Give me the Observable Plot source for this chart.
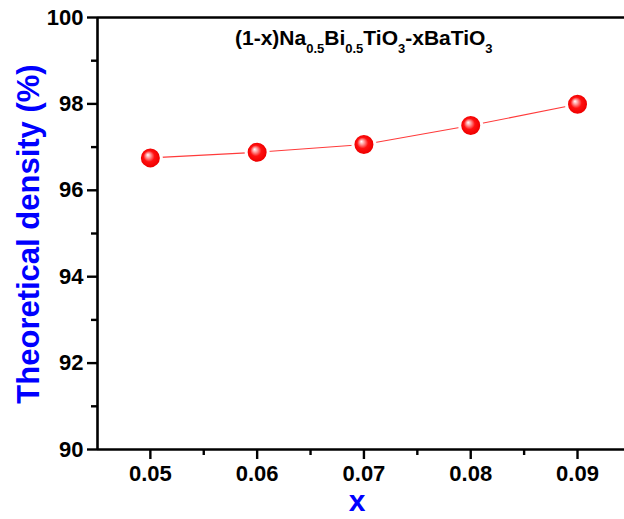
<!DOCTYPE html>
<html>
<head>
<meta charset="utf-8">
<script src="https://cdn.jsdelivr.net/npm/d3@7"></script>
<script src="https://cdn.jsdelivr.net/npm/@observablehq/plot@0.6"></script>
<style>
  html, body { margin: 0; padding: 0; background: #fff; }
  #chart { width: 624px; height: 519px; }
</style>
</head>
<body>
<div id="chart"></div>
<script>
// BaTiO3 content x and measured theoretical density (%)
const xValues = [0.05, 0.06, 0.07, 0.08, 0.09];
const density = [96.75, 96.88, 97.06, 97.50, 97.99];
const yMajorTicks = [90, 92, 94, 96, 98, 100];
const yMinorTicks = [91, 93, 95, 97, 99];
const xMajorTicks = [0.05, 0.06, 0.07, 0.08, 0.09];
const xMinorTicks = [0.055, 0.065, 0.075, 0.085];

const data = xValues.map((x, i) => ({x, y: density[i]}));

const font = "Liberation Sans, Arial, sans-serif";
const axisColor = "#000";

const chart = Plot.plot({
  width: 624,
  height: 519,
  marginLeft: 97,
  marginRight: 0,
  marginTop: 17,
  marginBottom: 70,
  style: {fontFamily: font, background: "#fff", overflow: "visible"},
  x: {domain: [0.04505, 0.0944]},
  y: {domain: [90, 100]},
  marks: [
    // axis frame: left, bottom and top lines
    Plot.ruleX([0.04505], {stroke: axisColor, strokeWidth: 2.6}),
    Plot.ruleY([90], {stroke: axisColor, strokeWidth: 2.6}),
    Plot.ruleY([100], {stroke: axisColor, strokeWidth: 2.6}),
    // y axis ticks and labels
    Plot.axisY({ticks: yMajorTicks, tickSize: 10, tickPadding: 4, tickFormat: d => d,
      fontSize: 22, fontWeight: "bold", strokeWidth: 2.4, label: null}),
    Plot.axisY({ticks: yMinorTicks, tickSize: 6, tickFormat: () => "", strokeWidth: 2.4, label: null}),
    // x axis ticks and labels
    Plot.axisX({ticks: xMajorTicks, tickSize: 10, tickPadding: 6, tickFormat: d => d.toFixed(2),
      fontSize: 22, fontWeight: "bold", strokeWidth: 2.4, label: null}),
    Plot.axisX({ticks: xMinorTicks, tickSize: 6, tickFormat: () => "", strokeWidth: 2.4, label: null}),
    // connecting line, broken around each marker by a white ring
    Plot.line(data, {x: "x", y: "y", stroke: "#ff3b3b", strokeWidth: 1.1}),
    Plot.dot(data, {x: "x", y: "y", r: 11, fill: "url(#ball)", stroke: "#fff", strokeWidth: 3})
  ]
});

// shaded sphere fill for the markers
const svg = d3.select(chart);
const defs = svg.insert("defs", ":first-child");
const grad = defs.append("radialGradient")
  .attr("id", "ball")
  .attr("cx", "50%").attr("cy", "50%").attr("r", "50%")
  .attr("fx", "38%").attr("fy", "36%");
grad.append("stop").attr("offset", "0%").attr("stop-color", "#ffffff");
grad.append("stop").attr("offset", "22%").attr("stop-color", "#ff9a9a");
grad.append("stop").attr("offset", "50%").attr("stop-color", "#ff1010");
grad.append("stop").attr("offset", "85%").attr("stop-color", "#f00000");
grad.append("stop").attr("offset", "100%").attr("stop-color", "#d80000");

// y axis title
svg.append("text")
  .attr("transform", "translate(28,234) rotate(-90)")
  .attr("text-anchor", "middle")
  .attr("dominant-baseline", "central")
  .attr("font-family", font)
  .attr("font-weight", "bold")
  .attr("font-size", 31)
  .attr("fill", "#0000ff")
  .text("Theoretical density (%)");

// x axis title
svg.append("text")
  .attr("x", 357).attr("y", 511)
  .attr("text-anchor", "middle")
  .attr("font-family", font)
  .attr("font-weight", "bold")
  .attr("font-size", 30)
  .attr("fill", "#0000ff")
  .text("x");

// composition label with subscripts
const title = svg.append("text")
  .attr("x", 235).attr("y", 45)
  .attr("text-anchor", "start")
  .attr("font-family", font)
  .attr("font-weight", "bold")
  .attr("font-size", 21)
  .attr("fill", "#000");
const parts = [
  ["(1-x)Na", false], ["0.5", true], ["Bi", false], ["0.5", true],
  ["TiO", false], ["3", true], ["-xBaTiO", false], ["3", true]
];
let sub = false;
for (const [t, isSub] of parts) {
  const dy = isSub && !sub ? 8 : (!isSub && sub ? -8 : 0);
  title.append("tspan")
    .attr("dy", dy)
    .attr("font-size", isSub ? 13 : 21)
    .text(t);
  sub = isSub;
}

document.getElementById("chart").appendChild(chart);
</script>
</body>
</html>
